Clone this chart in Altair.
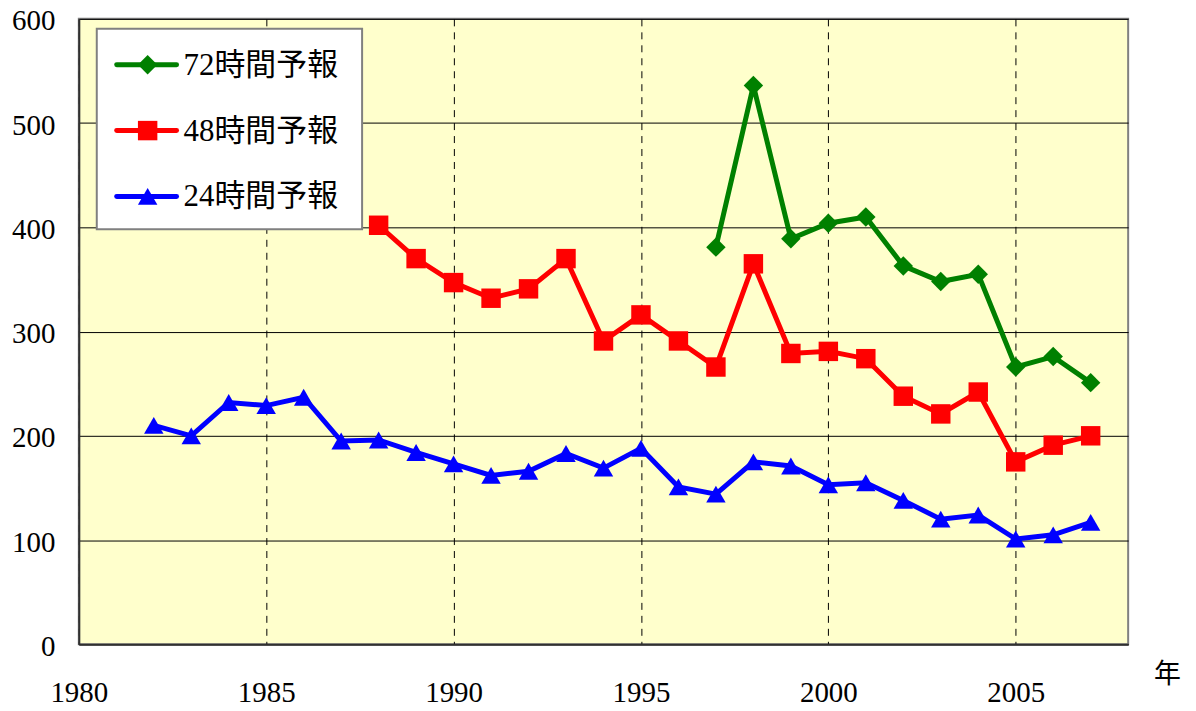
import altair as alt
import pandas as pd

# ---- data ----
years_24 = list(range(1982, 2008))
vals_24 = [210, 200, 232, 229, 237, 195, 196, 184, 173, 162, 166, 183, 169, 188,
           151, 144, 175, 171, 153, 155, 138, 120, 124, 101, 105, 117]
years_48 = list(range(1988, 2008))
vals_48 = [402, 370, 347, 332, 341, 370, 291, 316, 291, 266, 365, 279, 281, 274,
           238, 221, 242, 175, 191, 200]
years_72 = list(range(1997, 2008))
vals_72 = [381, 536, 389, 404, 410, 363, 348, 355, 266, 276, 251]

series_names = ["72時間予報", "48時間予報", "24時間予報"]
series_colors = ["#008000", "#FF0000", "#0000FF"]
series_shapes = ["diamond", "square", "triangle-up"]
x_ticks = [1980, 1985, 1990, 1995, 2000, 2005]
y_ticks = [0, 100, 200, 300, 400, 500, 600]
x_title = "年"

FONT_N = "Times New Roman"
FONT_L = "Times New Roman, Noto Sans CJK JP"
W, H = 1052, 627

rows = []
for name, ys, vs in [(series_names[2], years_24, vals_24),
                     (series_names[1], years_48, vals_48),
                     (series_names[0], years_72, vals_72)]:
    for y, v in zip(ys, vs):
        rows.append({"series": name, "year": y, "value": v})
df = pd.DataFrame(rows)

xscale = alt.Scale(domain=[1980, 2008], nice=False, zero=False)
yscale = alt.Scale(domain=[0, 600], nice=False)

xaxis = alt.Axis(values=x_ticks, format="d", grid=True, gridDash=[7, 6],
                 gridColor="#000000", gridWidth=1, ticks=False,
                 labelFont=FONT_N, labelFontSize=29, labelColor="#000000",
                 labelPadding=34, labelBaseline="top", labelFlush=False,
                 domain=True, domainColor="#303030", domainWidth=2,
                 title=x_title, titleFont="Noto Sans CJK JP", titleFontSize=27,
                 titleFontWeight="normal", titleColor="#000000",
                 titleX=W + 39, titleY=30, titleAlign="center",
                 titleBaseline="middle", titleAngle=0)
yaxis = alt.Axis(values=y_ticks, grid=True, gridColor="#000000", gridWidth=1,
                 ticks=False, labelFont=FONT_N, labelFontSize=29,
                 labelColor="#000000", labelPadding=24, labelFlush=False,
                 labelOffset=2, title="",
                 domain=True, domainColor="#303030", domainWidth=2)

color_scale = alt.Scale(domain=series_names, range=series_colors)
shape_scale = alt.Scale(domain=series_names, range=series_shapes)

base = alt.Chart(df)
lines = base.mark_line(strokeWidth=5).encode(
    x=alt.X("year:Q", scale=xscale, axis=xaxis),
    y=alt.Y("value:Q", scale=yscale, axis=yaxis),
    color=alt.Color("series:N", scale=color_scale, legend=None),
    detail="series:N",
)
points = base.mark_point(filled=True, opacity=1, strokeWidth=0).encode(
    x=alt.X("year:Q", scale=xscale, axis=xaxis),
    y=alt.Y("value:Q", scale=yscale, axis=yaxis),
    color=alt.Color("series:N", scale=color_scale, legend=None),
    shape=alt.Shape("series:N", scale=shape_scale, legend=None),
    size=alt.value(380),
)

# ---- manual legend (box + three entries) ----
leg_df = pd.DataFrame({"series": series_names})
legend_layers = [
    alt.Chart(leg_df).mark_rect(fill="white", stroke="#808080", strokeWidth=2).encode(
        x=alt.value(18), x2=alt.value(284), y=alt.value(10), y2=alt.value(211)
    ).transform_filter(alt.datum.series == series_names[0])
]
row_y = [46, 112, 178]
for name, col, shp, yy in zip(series_names, series_colors, series_shapes, row_y):
    sub = alt.Chart(leg_df).transform_filter(alt.datum.series == name)
    legend_layers.append(sub.mark_rule(color=col, strokeWidth=5, strokeCap="round").encode(
        x=alt.value(38), x2=alt.value(98), y=alt.value(yy)))
    legend_layers.append(sub.mark_point(shape=shp, filled=True, color=col, opacity=1,
                                        strokeWidth=0, size=380).encode(
        x=alt.value(69), y=alt.value(yy)))
    legend_layers.append(sub.mark_text(align="left", baseline="middle", font=FONT_L,
                                       fontSize=31, color="#000000").encode(
        x=alt.value(105), y=alt.value(yy + 1), text="series:N"))

chart = alt.layer(lines, points, *legend_layers).properties(
    width=W, height=H,
    autosize=alt.AutoSizeParams(type="none"),
    padding={"left": 71, "top": 10, "right": 60, "bottom": 70},
).configure_view(
    fill="#FFFFCC", stroke="#808080", strokeWidth=2
)

chart.save("out.html", embed_options={"renderer": "svg", "actions": False})
